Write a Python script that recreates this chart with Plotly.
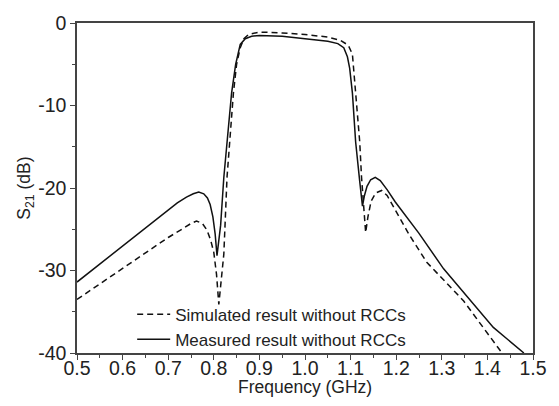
import plotly.graph_objects as go

# Measured result without RCCs (solid)
meas_freq = [0.50, 0.55, 0.60, 0.65, 0.70, 0.72, 0.74, 0.755, 0.767, 0.778, 0.786, 0.792, 0.798, 0.803, 0.807,
             0.811, 0.815, 0.822, 0.828, 0.833, 0.839, 0.848, 0.858, 0.869, 0.883, 0.90, 0.95,
             1.00, 1.05, 1.072, 1.085, 1.093, 1.098, 1.104, 1.111, 1.120, 1.126, 1.130, 1.136,
             1.144, 1.154, 1.165, 1.180, 1.198, 1.25, 1.304, 1.36, 1.413, 1.48]
meas_s21 = [-31.4, -29.2, -27.0, -24.8, -22.6, -21.8, -21.1, -20.7, -20.5, -20.7, -21.2, -22.0, -23.5, -25.6, -28.2,
            -26.5, -24.5, -18.7, -15.0, -12.4, -8.5, -5.0, -2.6, -1.9, -1.6, -1.5, -1.6,
            -1.9, -2.2, -2.5, -3.0, -4.1, -5.5, -8.5, -14.4, -19.2, -22.2, -21.0, -19.8,
            -19.0, -18.7, -19.1, -20.2, -21.7, -25.5, -29.8, -33.4, -36.9, -40.0]

# Simulated result without RCCs (dashed)
sim_freq = [0.50, 0.55, 0.60, 0.65, 0.70, 0.73, 0.750, 0.762, 0.775, 0.785, 0.793, 0.800, 0.806, 0.811,
            0.816, 0.822, 0.829, 0.837, 0.843, 0.850, 0.858, 0.866, 0.876, 0.90, 0.95, 1.00,
            1.05, 1.078, 1.095, 1.104, 1.111, 1.120, 1.124, 1.133, 1.138, 1.145, 1.155, 1.168, 1.180, 1.195,
            1.23, 1.267, 1.348, 1.424, 1.432]
sim_s21 = [-33.5, -31.6, -29.7, -27.8, -26.0, -25.0, -24.3, -24.0, -24.3, -25.1, -26.3, -27.8, -30.5, -34.1,
           -31.0, -28.0, -18.7, -12.4, -8.5, -5.0, -3.0, -1.9, -1.4, -1.1, -1.2, -1.4,
           -1.7, -2.1, -2.7, -3.8, -8.5, -14.4, -18.7, -25.4, -23.5, -21.6, -20.6, -20.3, -20.9, -22.4,
           -25.8, -29.0, -33.7, -39.4, -40.0]

x_ticks = [0.5, 0.6, 0.7, 0.8, 0.9, 1.0, 1.1, 1.2, 1.3, 1.4, 1.5]
x_labels = ["0.5", "0.6", "0.7", "0.8", "0.9", "1.0", "1.1", "1.2", "1.3", "1.4", "1.5"]
y_ticks = [0, -10, -20, -30, -40]
y_labels = ["0", "-10", "-20", "-30", "-40"]

font_family = "Liberation Sans, Arial, sans-serif"

fig = go.Figure()
fig.add_trace(go.Scatter(x=sim_freq, y=sim_s21, mode="lines",
                         name="Simulated result without RCCs",
                         line=dict(color="#111111", width=1.5, dash="6px,4px")))
fig.add_trace(go.Scatter(x=meas_freq, y=meas_s21, mode="lines",
                         name="Measured result without RCCs",
                         line=dict(color="#111111", width=1.5)))

axis_common = dict(showgrid=False, zeroline=False, showline=True, linecolor="#444444",
                   linewidth=1.5, mirror=True, ticks="outside", ticklen=5, tickwidth=1.2,
                   tickcolor="#444444", tickfont=dict(size=19.5, color="#222222", family=font_family))

fig.update_xaxes(range=[0.5, 1.5], tickvals=x_ticks, ticktext=x_labels, ticklabelstandoff=-8,
                 minor=dict(ticks="outside", ticklen=3, tickwidth=1.2, tickcolor="#444444", dtick=0.05),
                 **axis_common)
fig.update_yaxes(range=[-40, 0], tickvals=y_ticks, ticktext=y_labels,
                 minor=dict(ticks="outside", ticklen=3, tickwidth=1.2, tickcolor="#444444", dtick=5),
                 title=dict(text="S<sub>21</sub> (dB)", font=dict(size=17.5, color="#222222", family=font_family), standoff=3),
                 **axis_common)

fig.add_annotation(text="Frequency (GHz)", xref="paper", yref="paper", x=0.5, y=-0.102,
                   xanchor="center", yanchor="middle", showarrow=False,
                   font=dict(size=17.5, color="#222222", family=font_family))

fig.update_layout(
    width=559, height=406,
    margin=dict(l=77, r=22, t=15, b=53),
    plot_bgcolor="white", paper_bgcolor="white",
    showlegend=True,
    legend=dict(x=0.121, y=-0.014, xanchor="left", yanchor="bottom",
                bgcolor="rgba(0,0,0,0)", font=dict(size=17, color="#222222", family=font_family),
                tracegroupgap=0, itemwidth=33),
)

fig.write_html("out.html")
